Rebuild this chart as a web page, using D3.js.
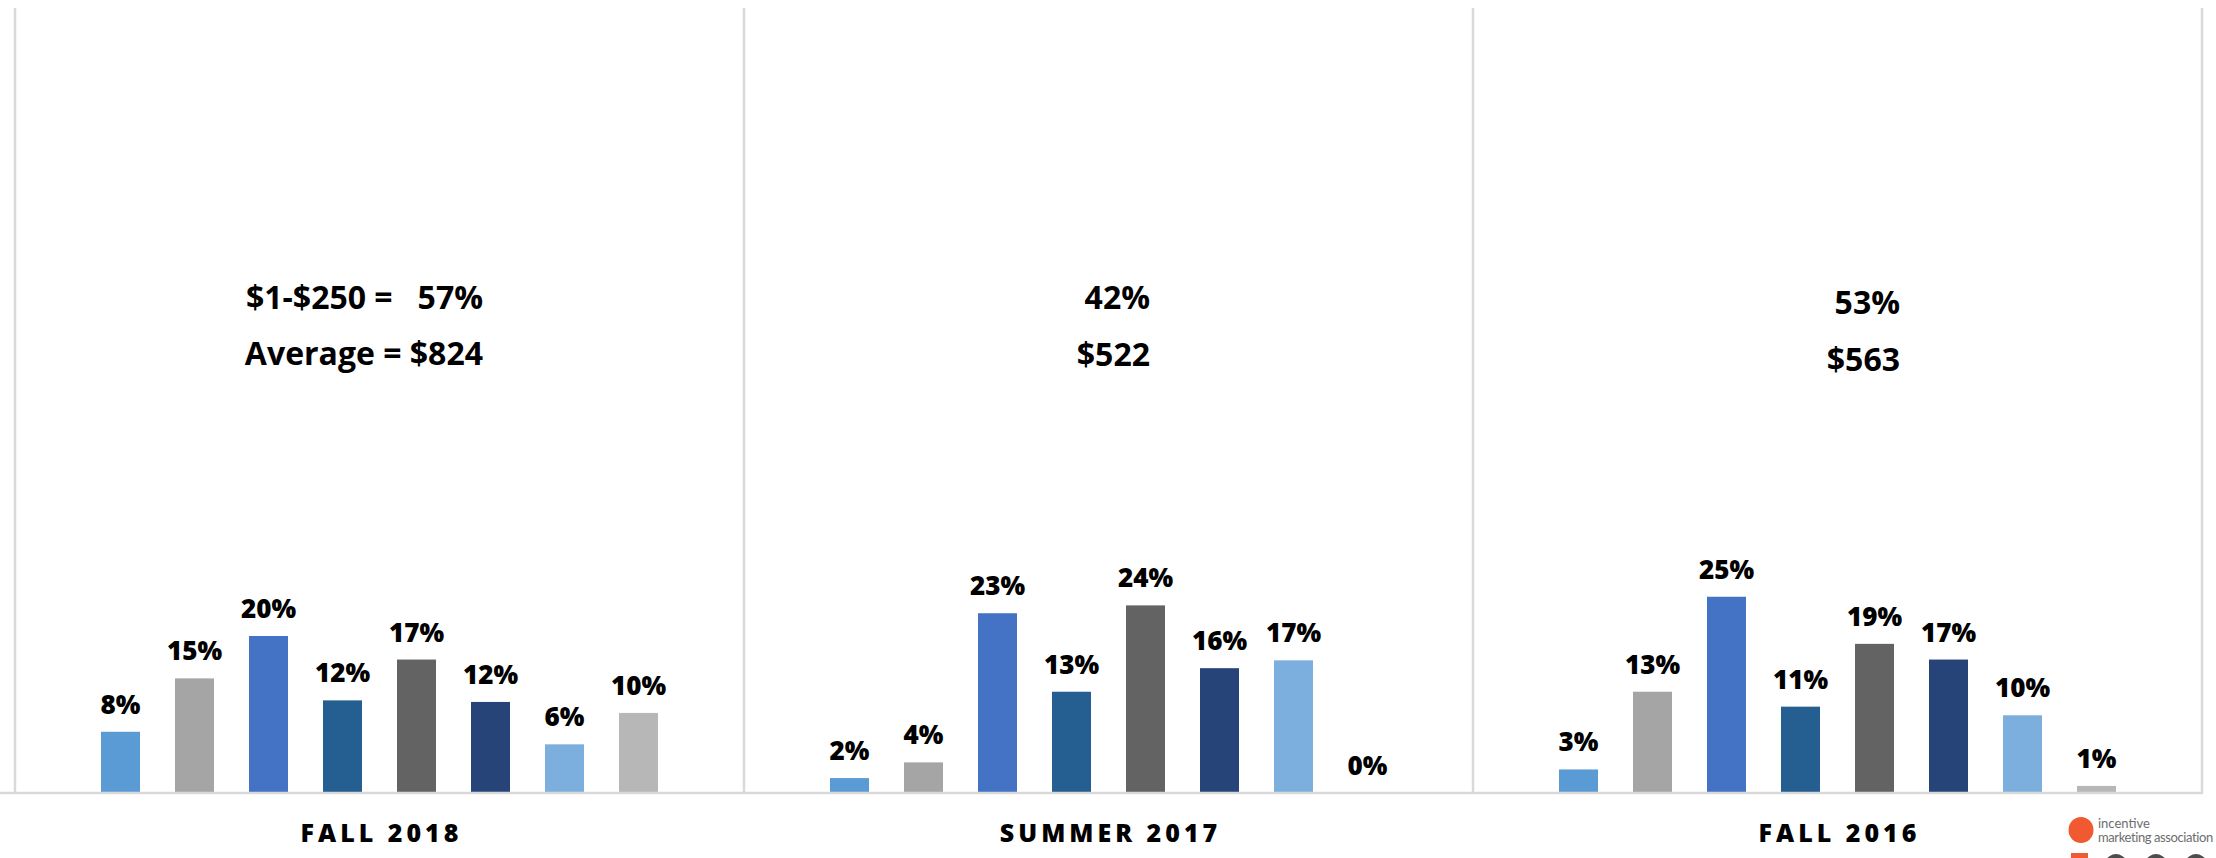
<!DOCTYPE html>
<html>
<head>
<meta charset="utf-8">
<script src="https://cdnjs.cloudflare.com/ajax/libs/d3/7.8.5/d3.min.js"></script>
<style>
    body { margin: 0; background: #fff; }
    svg text { font-family: "Open Sans", "Noto Sans", sans-serif; font-weight: bold; fill: #000; }
</style>
</head>
<body>
<div id="chart"></div>
<script>
// survey waves, one small chart each
const periods = ["FALL 2018", "SUMMER 2017", "FALL 2016"];
// spend buckets (not labelled on the slide)
const buckets = ["b1", "b2", "b3", "b4", "b5", "b6", "b7", "b8"];

// percent of respondents per bucket
const fall2018 = [7.8, 14.6, 20.0, 11.8, 17.0, 11.6, 6.2, 10.2];
const summer2017 = [1.9, 3.9, 22.9, 12.9, 23.9, 15.9, 16.9, 0];
const fall2016 = [3.0, 12.9, 25.0, 11.0, 19.0, 17.0, 9.9, 0.9];

// callouts
const shareLow = ["$1-$250 =   57%", "42%", "53%"];
const averageSpend = ["Average = $824", "$522", "$563"];

const barColors = ["#5b9bd5", "#a5a5a5", "#4472c4", "#255e91", "#636363", "#264478", "#7cafdd", "#b7b7b7"];

function init() {
    const w = 2216;
    const h = 858;
    const top = 8;
    const base = 793;
    const series = [fall2018, summer2017, fall2016];

    const svg = d3.select("#chart")
        .append("svg")
        .attr("width", w)
        .attr("height", h);

    // one panel per period
    const panel = d3.scaleBand()
        .domain(periods)
        .range([15, 2202])
        .padding(0);

    const x = d3.scaleBand()
        .domain(buckets)
        .range([0, panel.bandwidth()])
        .paddingInner(0.473)
        .paddingOuter(1.162);

    const y = d3.scaleLinear()
        .domain([0, 100])
        .range([base, top]);

    const fmt = d3.format(".0f");

    // callout placement (right edge, baselines)
    const calloutX = [468, 406, 427];
    const calloutY = [[309, 365], [309, 366], [314, 371]];

    periods.forEach(function (p, i) {
        const g = svg.append("g")
            .attr("transform", "translate(" + panel(p) + ",0)");

        g.selectAll("rect.bar")
            .data(series[i])
            .enter()
            .append("rect")
            .attr("class", "bar")
            .attr("x", (d, j) => x(buckets[j]))
            .attr("y", d => y(d))
            .attr("width", x.bandwidth())
            .attr("height", d => base - y(d))
            .attr("fill", (d, j) => barColors[j]);

        g.selectAll("text.val")
            .data(series[i])
            .enter()
            .append("text")
            .attr("class", "val")
            .attr("x", (d, j) => x(buckets[j]) + x.bandwidth() / 2)
            .attr("y", d => y(d) - 18)
            .attr("text-anchor", "middle")
            .style("font-size", "26px")
            .style("font-weight", "800")
            .text(d => fmt(d) + "%");

        g.append("text")
            .attr("x", panel.bandwidth() / 2 + 2)
            .attr("y", 842)
            .attr("text-anchor", "middle")
            .style("font-size", "25px")
            .style("font-weight", "800")
            .style("letter-spacing", "4px")
            .text(p);

        g.append("text")
            .attr("x", calloutX[i])
            .attr("y", calloutY[i][0])
            .attr("text-anchor", "end")
            .style("font-size", "32px")
            .style("white-space", "pre")
            .text(shareLow[i]);

        g.append("text")
            .attr("x", calloutX[i])
            .attr("y", calloutY[i][1])
            .attr("text-anchor", "end")
            .style("font-size", "32px")
            .style("white-space", "pre")
            .text(averageSpend[i]);
    });

    // frame: vertical panel edges and shared baseline
    const edges = periods.map(p => panel(p)).concat([panel(periods[2]) + panel.bandwidth()]);
    svg.selectAll("line.edge")
        .data(edges)
        .enter()
        .append("line")
        .attr("class", "edge")
        .attr("x1", d => d)
        .attr("x2", d => d)
        .attr("y1", top)
        .attr("y2", base)
        .attr("stroke", "#d9d9d9")
        .attr("stroke-width", 2.5);

    svg.append("line")
        .attr("x1", 0)
        .attr("x2", edges[3] + 1)
        .attr("y1", base)
        .attr("y2", base)
        .attr("stroke", "#d9d9d9")
        .attr("stroke-width", 2.5);

    // logo, bottom right
    const logo = svg.append("g");
    logo.append("ellipse")
        .attr("cx", 2081)
        .attr("cy", 830)
        .attr("rx", 12.5)
        .attr("ry", 13)
        .attr("fill", "#f15a31");
    logo.append("text")
        .attr("x", 2098)
        .attr("y", 828)
        .style("font-family", "Lato, sans-serif")
        .style("font-weight", "normal")
        .style("font-size", "13px")
        .style("fill", "#6d6d6d")
        .text("incentive");
    logo.append("text")
        .attr("x", 2098)
        .attr("y", 842)
        .style("font-family", "Lato, sans-serif")
        .style("font-weight", "normal")
        .style("font-size", "13px")
        .style("letter-spacing", "-0.4px")
        .style("fill", "#6d6d6d")
        .text("marketing association");
    logo.append("rect")
        .attr("x", 2071)
        .attr("y", 853)
        .attr("width", 17)
        .attr("height", 6)
        .attr("fill", "#f15a31");
    logo.selectAll("ellipse.hump")
        .data([2116, 2156, 2196])
        .enter()
        .append("ellipse")
        .attr("class", "hump")
        .attr("cx", d => d)
        .attr("cy", 883)
        .attr("rx", 17)
        .attr("ry", 29)
        .attr("fill", "#4d4d4d");
}

window.addEventListener("load", init);
</script>
</body>
</html>
